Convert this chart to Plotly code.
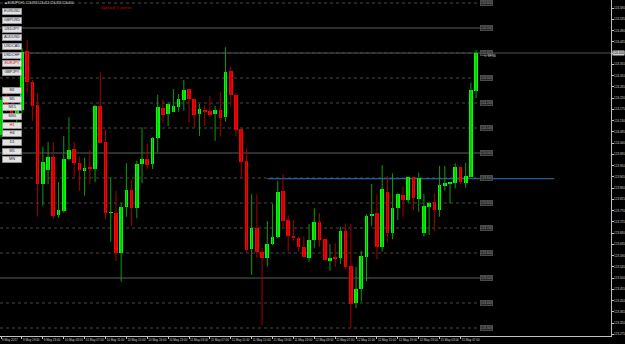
import plotly.graph_objects as go

# ---------------- data (EURJPY, H1) ----------------
opens = [124.072, 124.212, 124.196, 124.152, 124.172, 124.408, 124.285, 124.192, 123.875, 123.932,
         123.985, 123.752, 123.768, 123.975, 124.016, 123.961, 123.928, 123.941, 123.937, 124.188,
         124.044, 123.760, 123.761, 123.601, 123.785, 123.852, 123.781, 123.955, 123.975, 123.956,
         124.061, 124.180, 124.156, 124.165, 124.185, 124.212, 124.255, 124.216, 124.156, 124.172,
         124.167, 124.156, 124.172, 124.145, 124.328, 124.232, 124.095, 123.968, 123.616, 123.701,
         123.605, 123.581, 123.635, 123.663, 123.848, 123.732, 123.669, 123.661, 123.625, 123.581,
         123.652, 123.725, 123.655, 123.569, 123.581, 123.579, 123.688, 123.548, 123.399, 123.455,
         123.585, 123.748, 123.761, 123.625, 123.844, 123.679, 123.779, 123.832, 123.812, 123.903,
         123.816, 123.679, 123.785, 123.803, 123.772, 123.869, 123.879, 123.881, 123.945, 123.881,
         123.905, 124.249]
highs = [124.224, 124.244, 124.220, 124.196, 124.420, 124.452, 124.292, 124.241, 124.025, 124.045,
         124.043, 123.883, 124.068, 124.143, 124.045, 123.985, 123.981, 124.012, 124.192, 124.323,
         124.095, 123.903, 123.848, 123.801, 123.959, 123.895, 123.969, 124.103, 124.036, 124.064,
         124.233, 124.215, 124.201, 124.256, 124.236, 124.292, 124.256, 124.218, 124.196, 124.192,
         124.228, 124.188, 124.245, 124.423, 124.345, 124.234, 124.096, 124.016, 123.835, 123.835,
         123.621, 123.728, 123.796, 123.888, 123.916, 123.752, 123.732, 123.665, 123.665, 123.716,
         123.779, 123.759, 123.656, 123.636, 123.639, 123.705, 123.719, 123.716, 123.545, 123.609,
         123.755, 123.876, 123.832, 123.952, 123.908, 123.919, 123.839, 123.865, 123.905, 123.905,
         123.921, 123.835, 123.805, 123.839, 123.948, 123.948, 123.885, 123.959, 123.948, 123.961,
         124.281, 124.412]
lows = [124.060, 124.164, 124.132, 124.124, 124.160, 124.240, 124.128, 123.745, 123.789, 123.876,
        123.736, 123.741, 123.761, 123.972, 123.905, 123.848, 123.829, 123.876, 123.883, 124.040,
        123.736, 123.645, 123.568, 123.485, 123.745, 123.709, 123.739, 123.879, 123.936, 123.936,
        124.003, 124.121, 124.108, 124.164, 124.165, 124.169, 124.121, 124.101, 124.068, 124.108,
        124.145, 124.049, 124.065, 124.125, 124.188, 124.065, 123.901, 123.605, 123.512, 123.581,
        123.312, 123.545, 123.632, 123.659, 123.705, 123.605, 123.648, 123.605, 123.581, 123.565,
        123.619, 123.625, 123.570, 123.529, 123.545, 123.556, 123.535, 123.299, 123.379, 123.405,
        123.488, 123.708, 123.575, 123.605, 123.645, 123.655, 123.732, 123.745, 123.801, 123.772,
        123.765, 123.665, 123.672, 123.688, 123.745, 123.849, 123.799, 123.859, 123.876, 123.861,
        123.904, 124.219]
closes = [124.212, 124.196, 124.152, 124.172, 124.404, 124.283, 124.188, 123.875, 123.965, 123.983,
          123.748, 123.772, 123.975, 124.012, 123.959, 123.932, 123.941, 123.936, 124.188, 124.041,
          123.759, 123.761, 123.601, 123.785, 123.852, 123.781, 123.956, 123.975, 123.952, 124.061,
          124.183, 124.152, 124.196, 124.189, 124.215, 124.252, 124.216, 124.152, 124.175, 124.165,
          124.152, 124.172, 124.141, 124.325, 124.232, 124.092, 123.965, 123.612, 123.701, 123.605,
          123.581, 123.635, 123.665, 123.845, 123.729, 123.669, 123.661, 123.625, 123.583, 123.652,
          123.725, 123.652, 123.573, 123.581, 123.576, 123.688, 123.545, 123.396, 123.456, 123.588,
          123.748, 123.757, 123.625, 123.856, 123.679, 123.779, 123.835, 123.812, 123.903, 123.821,
          123.900, 123.788, 123.801, 123.772, 123.872, 123.881, 123.885, 123.945, 123.883, 123.908,
          124.252, 124.400]

x_tick_bars = [0, 4, 8, 12, 16, 20, 24, 28, 32, 36, 40, 44, 48, 52, 56, 60, 64, 68, 72, 76, 80, 84, 88]
x_tick_labels = ["9 May 2017", "9 May 19:00", "9 May 23:00", "10 May 03:00", "10 May 07:00",
                 "10 May 11:00", "10 May 15:00", "10 May 19:00", "10 May 23:00", "11 May 03:00",
                 "11 May 07:00", "11 May 11:00", "11 May 15:00", "11 May 19:00", "11 May 23:00",
                 "12 May 03:00", "12 May 07:00", "12 May 11:00", "12 May 15:00", "12 May 19:00",
                 "12 May 23:00", "15 May 03:00", "15 May 07:00"]
y_tick_values = [124.580, 124.535, 124.490, 124.445, 124.400, 124.355, 124.310, 124.265, 124.220,
                 124.175, 124.130, 124.085, 124.040, 123.995, 123.950, 123.905, 123.860, 123.815,
                 123.770, 123.725, 123.680, 123.635, 123.590, 123.545, 123.500, 123.455, 123.410,
                 123.365, 123.320, 123.275]
level_prices = [124.6, 124.5, 124.4, 124.3, 124.2, 124.1, 124.0, 123.9, 123.8, 123.7, 123.6, 123.5, 123.4, 123.3]
major_levels = [124.5, 124.0, 123.5]
blue_level = 123.897
blue_span = (51, 106)
current_price = 124.400
symbols = ["EURUSD", "GBPUSD", "USDJPY", "AUDUSD", "USDCAD", "USDCHF", "EURJPY", "GBPJPY"]
timeframes = ["M1", "M5", "M15", "M30", "H1", "H4", "D1", "W1", "MN"]
active = {"EURJPY", "H1"}
title_text = "EURJPY,H1  124.392 124.412 124.352 124.400"
spread_text = "Spread: 5 points"
timer_text = "<- 19:36"

# ---------------- figure ----------------
W, H = 625, 344
ML, MR, MT, MB = 0, 14, 0, 8
PW, PH = W - ML - MR, H - MT - MB
Y_RANGE = [123.268, 124.612]
X_RANGE = [-0.21, 116.84]

def px(x):
    return x / PW

def py(y):
    return 1 - y / PH

n = len(opens)
idx = list(range(n))
up = [i for i in idx if closes[i] >= opens[i]]
dn = [i for i in idx if closes[i] < opens[i]]
MIN_BODY = 0.004

fig = go.Figure()

def wick_trace(ids, color):
    xs, ys = [], []
    for i in ids:
        xs += [i, i, None]
        ys += [lows[i], highs[i], None]
    return go.Scatter(x=xs, y=ys, mode="lines", line=dict(color=color, width=1),
                      hoverinfo="skip", showlegend=False)

fig.add_trace(wick_trace(up, "#0b9e0b"))
fig.add_trace(wick_trace(dn, "#a80000"))

def body_trace(ids, color):
    base = [min(opens[i], closes[i]) for i in ids]
    hgt = [max(abs(closes[i] - opens[i]), MIN_BODY) for i in ids]
    return go.Bar(x=ids, y=hgt, base=base, width=0.7, marker=dict(color=color, line=dict(width=0)),
                  hoverinfo="skip", showlegend=False)

fig.add_trace(body_trace(up, "#00ff00"))
fig.add_trace(body_trace(dn, "#ff0000"))

shapes = []
# bid line
shapes.append(dict(type="line", xref="paper", yref="y", x0=0, x1=1, y0=current_price, y1=current_price,
                   line=dict(color="#2a2a2a", width=2), layer="below"))
# price levels
for lv in level_prices:
    major = lv in major_levels
    shapes.append(dict(type="line", xref="paper", yref="y", x0=0, x1=px(480), y0=lv, y1=lv,
                       line=dict(color="#5c5c5c" if major else "#4a4a4a", width=1,
                                 dash="solid" if major else "dot"), layer="below"))
# blue horizontal line
shapes.append(dict(type="line", xref="x", yref="y", x0=blue_span[0], x1=blue_span[1],
                   y0=blue_level, y1=blue_level, line=dict(color="#2f74c0", width=1), layer="below"))

ann = []
FONT = "Liberation Sans"
for lv in level_prices:
    ann.append(dict(xref="paper", yref="y", x=px(480), y=lv, xanchor="left", yanchor="middle",
                    text=f"{lv:.3f}", showarrow=False, bgcolor="#262626", bordercolor="#4a4a4a",
                    borderwidth=1, borderpad=0, font=dict(family=FONT, size=3, color="#9a9a9a")))
ann.append(dict(xref="paper", yref="y", x=px(482), y=current_price, yshift=-3, xanchor="left", yanchor="middle",
                text=timer_text, showarrow=False, font=dict(family=FONT, size=3.2, color="#d8d8d8")))
# current price label on axis
ann.append(dict(xref="paper", yref="y", x=px(612), y=current_price, xanchor="left", yanchor="middle",
                text=f"{current_price:.3f}", showarrow=False, bgcolor="#d0d0d0", borderpad=0,
                font=dict(family=FONT, size=3, color="#000000")))
# title and spread
ann.append(dict(xref="paper", yref="paper", x=px(2.5), y=py(3), xanchor="left", yanchor="middle",
                text="■ " + title_text, showarrow=False, font=dict(family=FONT, size=3.1, color="#e0e0e0")))
ann.append(dict(xref="paper", yref="paper", x=px(99), y=py(7), xanchor="left", yanchor="middle",
                text=spread_text, showarrow=False, font=dict(family=FONT, size=4.2, color="#d00000")))
# buttons
def button(label, top):
    col = "#e00000" if label in active else "#1a1a3a"
    return dict(xref="paper", yref="paper", x=px(1.5), y=py(top), xanchor="left", yanchor="top",
                text=label, showarrow=False, width=19, height=5.5, bgcolor="#e2e2e2",
                bordercolor="#8a8a8a", borderwidth=0.6, borderpad=0,
                font=dict(family=FONT, size=3.8, color=col))
for k, s in enumerate(symbols):
    ann.append(button(s, 8.3 + 8.65 * k))
for k, t in enumerate(timeframes):
    ann.append(button(t, 87 + 8.65 * k))

fig.update_layout(
    width=W, height=H, margin=dict(l=ML, r=MR, t=MT, b=MB),
    paper_bgcolor="#000000", plot_bgcolor="#000000",
    barmode="overlay", bargap=0, showlegend=False,
    shapes=shapes, annotations=ann,
    xaxis=dict(range=X_RANGE, tickvals=x_tick_bars, ticktext=x_tick_labels, tickangle=0,
               ticklabelposition="outside right", ticks="outside", ticklen=2, tickcolor="#c0c0c0",
               showline=True, linecolor="#c0c0c0", linewidth=1, mirror=False,
               showgrid=False, zeroline=False, automargin=False, fixedrange=True,
               tickfont=dict(family=FONT, size=3, color="#d0d0d0")),
    yaxis=dict(range=Y_RANGE, side="right", tickvals=y_tick_values,
               ticktext=[f"{v:.3f}" for v in y_tick_values],
               ticks="outside", ticklen=1.5, tickcolor="#c0c0c0",
               showline=True, linecolor="#c0c0c0", linewidth=1,
               showgrid=False, zeroline=False, automargin=False, fixedrange=True,
               tickfont=dict(family=FONT, size=3, color="#d0d0d0")),
)

fig.write_html("out.html")
